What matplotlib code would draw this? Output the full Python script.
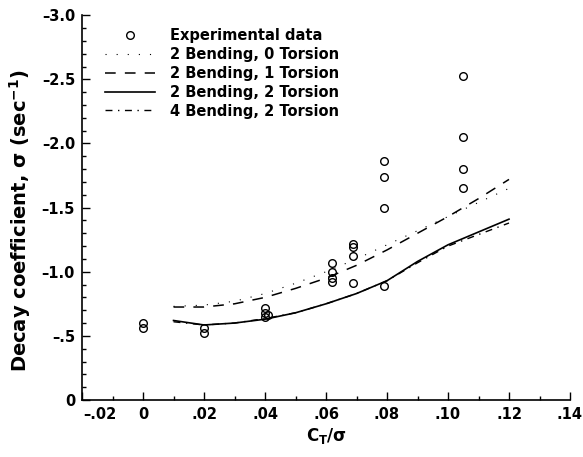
import matplotlib
matplotlib.use("Agg")
import matplotlib.pyplot as plt
import matplotlib.ticker as mticker

plt.rcParams["font.family"] = ["DejaVu Sans"]
plt.rcParams["font.weight"] = "bold"
plt.rcParams["mathtext.fontset"] = "custom"
plt.rcParams["mathtext.rm"] = "DejaVu Sans:bold"
plt.rcParams["mathtext.it"] = "DejaVu Sans:bold"
plt.rcParams["mathtext.bf"] = "DejaVu Sans:bold"

# experimental data (C_T/sigma, decay coefficient)
exp_x = [0.0, 0.0, 0.02, 0.02, 0.04, 0.04, 0.04, 0.041,
         0.062, 0.062, 0.062, 0.062, 0.069, 0.069, 0.069, 0.069,
         0.079, 0.079, 0.079, 0.079, 0.105, 0.105, 0.105, 0.105]
exp_y = [-0.60, -0.56, -0.56, -0.52, -0.72, -0.68, -0.65, -0.66,
         -1.07, -1.00, -0.95, -0.92, -1.22, -1.19, -1.12, -0.91,
         -1.86, -1.74, -1.50, -0.89, -2.53, -2.05, -1.80, -1.65]

# analysis curves
ct = [0.01, 0.02, 0.03, 0.04, 0.05, 0.06, 0.07, 0.08, 0.09, 0.10, 0.11, 0.12]
b2_t0 = [-0.73, -0.74, -0.77, -0.83, -0.91, -1.00, -1.10, -1.21, -1.32, -1.43, -1.54, -1.65]
b2_t1 = [-0.725, -0.725, -0.75, -0.80, -0.87, -0.95, -1.05, -1.17, -1.30, -1.43, -1.57, -1.72]
b2_t2 = [-0.62, -0.585, -0.60, -0.63, -0.68, -0.75, -0.83, -0.93, -1.08, -1.21, -1.31, -1.41]
b4_t2 = [-0.61, -0.585, -0.60, -0.635, -0.68, -0.75, -0.83, -0.93, -1.07, -1.20, -1.29, -1.38]

fig = plt.figure(figsize=(5.83, 4.57), dpi=100)
ax = fig.add_axes([0.1407, 0.1247, 0.837, 0.842])

ax.plot(exp_x, exp_y, "o", ms=5.5, mfc="none", mec="black", mew=1.0,
        label="Experimental data", clip_on=False)
ax.plot(ct, b2_t0, color="black", lw=0.8, ls=(0, (1, 9)), label="2 Bending, 0 Torsion")
ax.plot(ct, b2_t1, color="black", lw=1.1, ls=(0, (7, 6)), label="2 Bending, 1 Torsion")
ax.plot(ct, b2_t2, color="black", lw=1.2, ls="-", label="2 Bending, 2 Torsion")
ax.plot(ct, b4_t2, color="black", lw=1.0, ls=(0, (5, 4, 1, 4)), label="4 Bending, 2 Torsion")

XMIN, XMAX = -0.02, 0.14
ax.set_xlim(XMIN, XMAX)
ax.set_ylim(0, -3.0)
ax.xaxis.set_major_locator(mticker.MultipleLocator(0.02))
ax.xaxis.set_minor_locator(mticker.MultipleLocator(0.01))
ax.yaxis.set_major_locator(mticker.MultipleLocator(0.5))
ax.yaxis.set_minor_locator(mticker.MultipleLocator(0.1))

DASH = "\u2013"

def xfmt(v, _):
    if abs(v) < 1e-9:
        return "0"
    if abs(v - XMIN) < 1e-9:
        return ""  # drawn separately, shifted right of the origin
    s = f"{abs(v):.2f}".lstrip("0")
    return (DASH if v < 0 else "") + s

def yfmt(v, _):
    if abs(v) < 1e-9:
        return "0"
    s = f"{abs(v):.1f}"
    if s.startswith("0"):
        s = s[1:]
    return (DASH if v < 0 else "") + s

ax.xaxis.set_major_formatter(mticker.FuncFormatter(xfmt))
ax.yaxis.set_major_formatter(mticker.FuncFormatter(yfmt))

ax.tick_params(which="both", direction="in", width=1.0, labelsize=10.5)
ax.tick_params(which="major", length=6, pad=5)
ax.tick_params(which="minor", length=3)

ax.text(0.003, -0.017, DASH + ".02", transform=ax.transAxes, ha="left", va="top",
        fontsize=10.5, fontweight="bold")

ax.spines[["top", "right"]].set_visible(False)
ax.spines[["left", "bottom"]].set_linewidth(1.2)

ax.set_xlabel("C$_\\mathregular{T}$/\u03c3", fontsize=12, fontweight="bold", labelpad=3)
ax.set_ylabel("Decay coefficient, \u03c3 (sec$^{\\mathregular{-1}}$)",
              fontsize=14, fontweight="bold")
ax.yaxis.set_label_coords(-0.10, 0.465)

leg = ax.legend(loc="upper left", bbox_to_anchor=(0.03, 0.99), frameon=False,
                fontsize=10.5, handlelength=3.4, handletextpad=1.0,
                labelspacing=0.27, borderaxespad=0.2)
for t in leg.get_texts():
    t.set_fontweight("bold")

fig.savefig("out.png", dpi=100)
